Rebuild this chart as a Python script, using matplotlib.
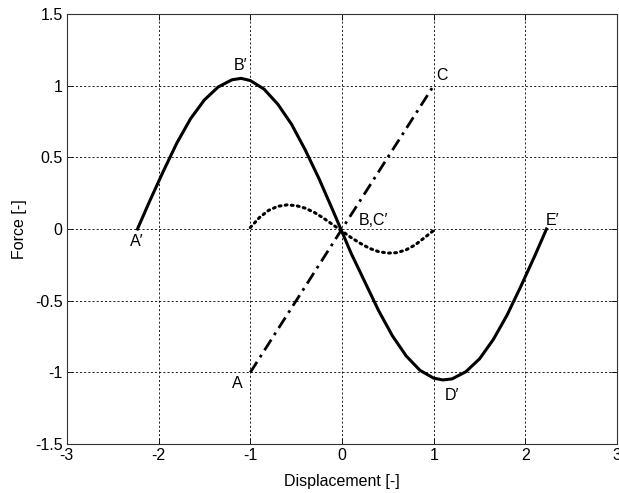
import matplotlib
matplotlib.use("Agg")
import matplotlib.pyplot as plt

plt.rcParams["font.family"] = ["Liberation Sans", "DejaVu Sans"]
plt.rcParams["font.size"] = 11.5

# solid force curve
main_x = [-2.23, -2.1, -1.95, -1.8, -1.65, -1.5, -1.35, -1.2, -1.1, -1.0, -0.85, -0.7,
          -0.55, -0.4, -0.25, -0.1, 0.0, 0.1, 0.25, 0.4, 0.55, 0.7, 0.85, 1.0, 1.1,
          1.2, 1.35, 1.5, 1.65, 1.8, 1.95, 2.1, 2.23]
main_y = [0.0, 0.19, 0.40, 0.60, 0.77, 0.90, 0.99, 1.04, 1.05, 1.035, 0.975, 0.87,
          0.73, 0.55, 0.35, 0.13, -0.02, -0.17, -0.37, -0.57, -0.745, -0.885, -0.985,
          -1.04, -1.052, -1.045, -0.995, -0.905, -0.77, -0.6, -0.4, -0.19, 0.0]

# dotted curve
dot_x = [-1.0, -0.9, -0.8, -0.7, -0.6, -0.5, -0.4, -0.3, -0.2, -0.1, 0.0,
         0.1, 0.2, 0.3, 0.4, 0.5, 0.6, 0.7, 0.8, 0.9, 1.0]
dot_y = [0.01, 0.08, 0.13, 0.158, 0.168, 0.163, 0.145, 0.115, 0.075, 0.03, -0.015,
         -0.06, -0.1, -0.135, -0.158, -0.168, -0.165, -0.145, -0.11, -0.06, -0.01]

# dash-dot line A -> C
line_x = [-1.0, 1.0]
line_y = [-1.0, 1.0]

labels = ["A\u2032", "B\u2032", "B,C\u2032", "D\u2032", "E\u2032", "A", "C"]
label_x = [-2.24, -1.11, 0.34, 1.2, 2.3, -1.145, 1.09]
label_y = [-0.09, 1.14, 0.06, -1.16, 0.06, -1.075, 1.07]

fig = plt.figure(figsize=(6.19, 4.93), dpi=100)
ax = fig.add_axes([0.108, 0.099, 0.889, 0.873])

ax.plot(main_x, main_y, color="black", lw=2.2, solid_joinstyle="round")
ax.plot(dot_x, dot_y, color="black", lw=2.2, linestyle=(0, (0.6, 1.4)),
        dash_capstyle="round")
ax.plot(line_x, line_y, color="black", lw=2.0, linestyle=(0, (4.5, 2, 1, 2)))

for t, x, y in zip(labels, label_x, label_y):
    ax.text(x, y, t, ha="center", va="center", fontsize=11.5)

ax.set_xlim(-3, 3)
ax.set_ylim(-1.5, 1.5)
ax.set_xticks([-3, -2, -1, 0, 1, 2, 3])
ax.set_yticks([-1.5, -1, -0.5, 0, 0.5, 1, 1.5])
ax.set_xticklabels(["-3", "-2", "-1", "0", "1", "2", "3"])
ax.set_yticklabels(["-1.5", "-1", "-0.5", "0", "0.5", "1", "1.5"])
ax.grid(True, color="black", linestyle=(0, (2.5, 2.5)), lw=0.6)
ax.tick_params(direction="in", length=4, width=0.6, top=True, right=True, pad=3)
for s in ax.spines.values():
    s.set_linewidth(0.8)
    s.set_color("#333333")

ax.set_xlabel("Displacement [-]", labelpad=8)
ax.set_ylabel("Force [-]", labelpad=6)

fig.savefig("out.png", dpi=100)
